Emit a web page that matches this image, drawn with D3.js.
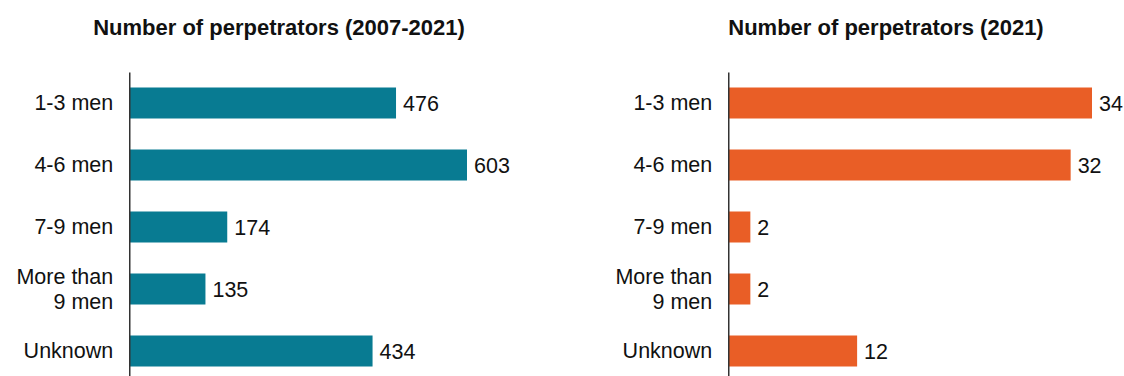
<!DOCTYPE html>
<html>
<head>
<meta charset="utf-8">
<script src="https://cdn.jsdelivr.net/npm/d3@7"></script>
<style>
  html, body { margin: 0; padding: 0; background: #fff; }
  svg { display: block; font-family: "Liberation Sans", Arial, sans-serif; }
</style>
</head>
<body>
<svg id="chart" width="1124" height="376"></svg>
<script>
// Perpetrator group sizes, all years and 2021 only
const categories = ["1-3 men", "4-6 men", "7-9 men", "More than\n9 men", "Unknown"];
const totals2007to2021 = [476, 603, 174, 135, 434];
const totals2021 = [34, 32, 2, 2, 12];
const panelTitles = ["Number of perpetrators (2007-2021)", "Number of perpetrators (2021)"];
const barColors = ["#087B92", "#E95E26"];

const svg = d3.select("#chart");
const labelSize = 21.5;

function drawPanel(opts) {
  const g = svg.append("g");
  const rows = categories.map((c, i) => ({ cat: c, value: opts.values[i] }));

  const y = d3.scaleBand()
    .domain(categories)
    .range([72, 382])
    .paddingInner(0.5)
    .paddingOuter(0.25);

  const x = d3.scaleLinear()
    .domain([0, d3.max(opts.values)])
    .range([opts.x0, opts.x1]);

  // title
  g.append("text")
    .attr("x", opts.titleX)
    .attr("y", 35)
    .attr("text-anchor", "middle")
    .attr("font-size", 22)
    .attr("font-weight", "bold")
    .attr("fill", "#111")
    .text(opts.title);

  // bars
  g.selectAll("rect.bar")
    .data(rows)
    .join("rect")
    .attr("class", "bar")
    .attr("x", x(0))
    .attr("y", d => y(d.cat))
    .attr("width", d => x(d.value) - x(0))
    .attr("height", y.bandwidth())
    .attr("fill", opts.color);

  // value labels
  g.selectAll("text.val")
    .data(rows)
    .join("text")
    .attr("class", "val")
    .attr("x", d => x(d.value) + 7)
    .attr("y", d => y(d.cat) + y.bandwidth() / 2)
    .attr("dy", "0.36em")
    .attr("font-size", labelSize)
    .attr("fill", "#111")
    .text(d => d.value);

  // category axis
  const axis = g.append("g")
    .attr("transform", `translate(${x(0) - 0.75},0)`)
    .call(d3.axisLeft(y).tickSize(0).tickSizeOuter(0).tickPadding(16));

  axis.select(".domain").attr("stroke", "#333").attr("stroke-width", 1.5);
  axis.selectAll(".tick text")
    .attr("font-size", labelSize)
    .attr("font-family", "Liberation Sans, Arial, sans-serif")
    .attr("fill", "#111")
    .each(function(d) {
      const lines = d.split("\n");
      if (lines.length < 2) return;
      const t = d3.select(this).text(null).attr("dy", null);
      const lh = 25;
      lines.forEach((line, i) => {
        t.append("tspan")
          .attr("x", -16)
          .attr("y", (i - (lines.length - 1) / 2) * lh)
          .attr("dy", "0.36em")
          .text(line);
      });
    });
}

drawPanel({ values: totals2007to2021, title: panelTitles[0], color: barColors[0], x0: 130, x1: 467, titleX: 279 });
drawPanel({ values: totals2021, title: panelTitles[1], color: barColors[1], x0: 729, x1: 1092, titleX: 886 });
</script>
</body>
</html>
